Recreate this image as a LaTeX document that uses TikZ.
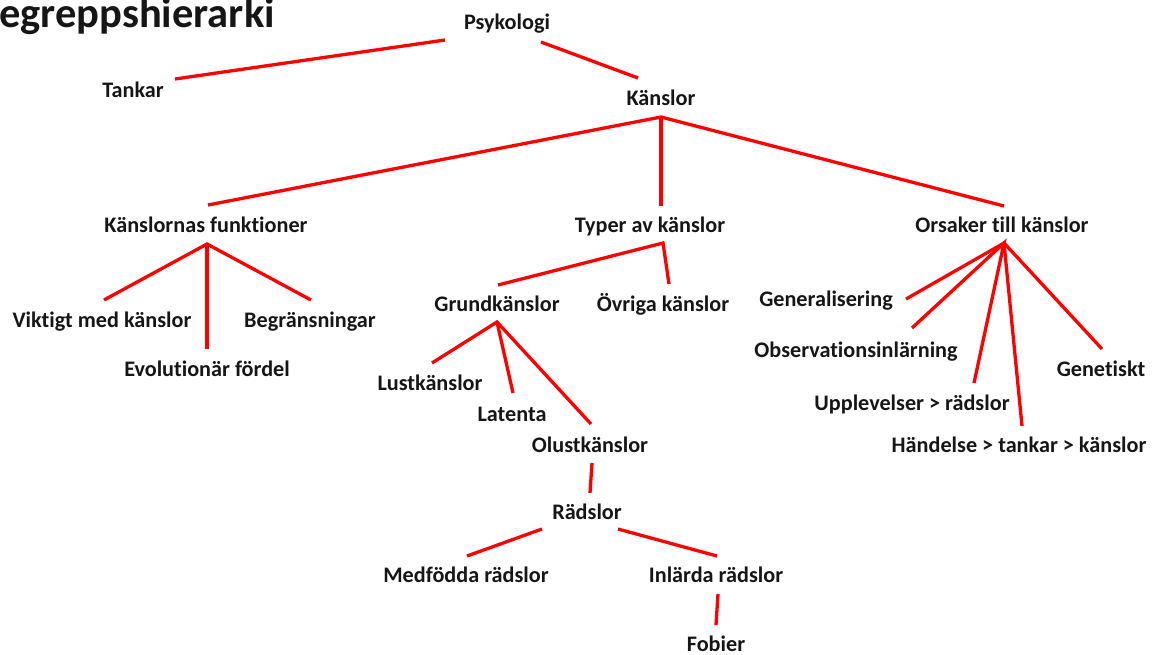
\documentclass[tikz,border=0pt]{standalone}
\usepackage{fontspec}
\setmainfont{Carlito}[Ligatures=NoCommon]
\definecolor{textc}{RGB}{22,22,22}
\definecolor{linec}{RGB}{255,0,0}
\begin{document}
\begin{tikzpicture}[x=1pt,y=-1pt,
  lbl/.style={font=\fontsize{22.2}{26}\selectfont\bfseries, text=textc, inner sep=0pt, anchor=base},
  ttl/.style={font=\fontsize{42.5}{48}\selectfont\bfseries, text=textc, inner sep=0pt, anchor=base west},
  edge/.style={draw=linec, line width=3.3pt}]
\useasboundingbox (0,0) rectangle (1153,654);
% title
\node[ttl] (title) at (-1,27.5) {egreppshierarki};
% nodes (base line = visual centre + 7)
\node[lbl] (psy)   at (507,29)  {Psykologi};
\node[lbl] (tank)  at (133,97)  {Tankar};
\node[lbl] (kans)  at (661,105) {Känslor};
\node[lbl] (kf)    at (206,232) {Känslornas funktioner};
\node[lbl] (typ)   at (650,232) {Typer av känslor};
\node[lbl] (ors)   at (1002,232) {Orsaker till känslor};
\node[lbl] (vik)   at (102,327) {Viktigt med känslor};
\node[lbl] (beg)   at (310,327) {Begränsningar};
\node[lbl] (evo)   at (207,376) {Evolutionär fördel};
\node[lbl] (grund) at (497,311) {Grundkänslor};
\node[lbl] (ovr)   at (663,311) {Övriga känslor};
\node[lbl] (lust)  at (430,390) {Lustkänslor};
\node[lbl] (lat)   at (512,421) {Latenta};
\node[lbl] (olust) at (590,452) {Olustkänslor};
\node[lbl] (rad)   at (587,519) {Rädslor};
\node[lbl] (med)   at (466,582) {Medfödda rädslor};
\node[lbl] (inl)   at (716,582) {Inlärda rädslor};
\node[lbl] (fob)   at (716,651) {Fobier};
\node[lbl] (gen)   at (826,306) {Generalisering};
\node[lbl] (obs)   at (856,357) {Observationsinlärning};
\node[lbl] (upp)   at (912,410) {Upplevelser > rädslor};
\node[lbl] (hand)  at (1019,452) {Händelse > tankar > känslor};
\node[lbl] (genet) at (1101,376) {Genetiskt};
% connector end points
\coordinate (psyL) at (445,40);   \coordinate (tankR) at (175,79);
\coordinate (psyR) at (541,42);   \coordinate (kansT) at (638,78);
\coordinate (kansB) at (661,117);
\coordinate (kfT) at (208,205);   \coordinate (typT) at (661,206); \coordinate (orsT) at (1004,206);
\coordinate (kfB) at (207,244);
\coordinate (vikT) at (104,300);  \coordinate (evoT) at (207,349); \coordinate (begT) at (311,300);
\coordinate (typB) at (663,243);
\coordinate (grundT) at (498,285); \coordinate (ovrT) at (669,284);
\coordinate (grundB) at (497,322);
\coordinate (lustT) at (432,363); \coordinate (latT) at (513,393); \coordinate (olustT) at (591,424);
\coordinate (olustB) at (592,463); \coordinate (radT) at (590,493);
\coordinate (radL) at (542,529);  \coordinate (medT) at (467,556);
\coordinate (radR) at (618,529);  \coordinate (inlT) at (717,556);
\coordinate (inlB) at (718,594);  \coordinate (fobT) at (716,625);
\coordinate (orsB) at (1004,243);
\coordinate (genT) at (906,299);  \coordinate (obsT) at (912,328);
\coordinate (uppT) at (974,383);  \coordinate (handT) at (1022,426);
\coordinate (genetT) at (1102,349);
% connectors
\draw[edge] (psyL) -- (tankR);
\draw[edge] (psyR) -- (kansT);
\draw[edge] (kfT) -- (kansB) -- (orsT);
\draw[edge] (kansB) -- (typT);
\draw[edge] (vikT) -- (kfB) -- (begT);
\draw[edge] (kfB) -- (evoT);
\draw[edge] (grundT) -- (typB) -- (ovrT);
\draw[edge] (lustT) -- (grundB) -- (olustT);
\draw[edge] (grundB) -- (latT);
\draw[edge] (olustB) -- (radT);
\draw[edge] (radL) -- (medT);
\draw[edge] (radR) -- (inlT);
\draw[edge] (inlB) -- (fobT);
\draw[edge] (genT) -- (orsB) -- (genetT);
\draw[edge] (obsT) -- (orsB) -- (uppT);
\draw[edge] (orsB) -- (handT);
\end{tikzpicture}
\end{document}
